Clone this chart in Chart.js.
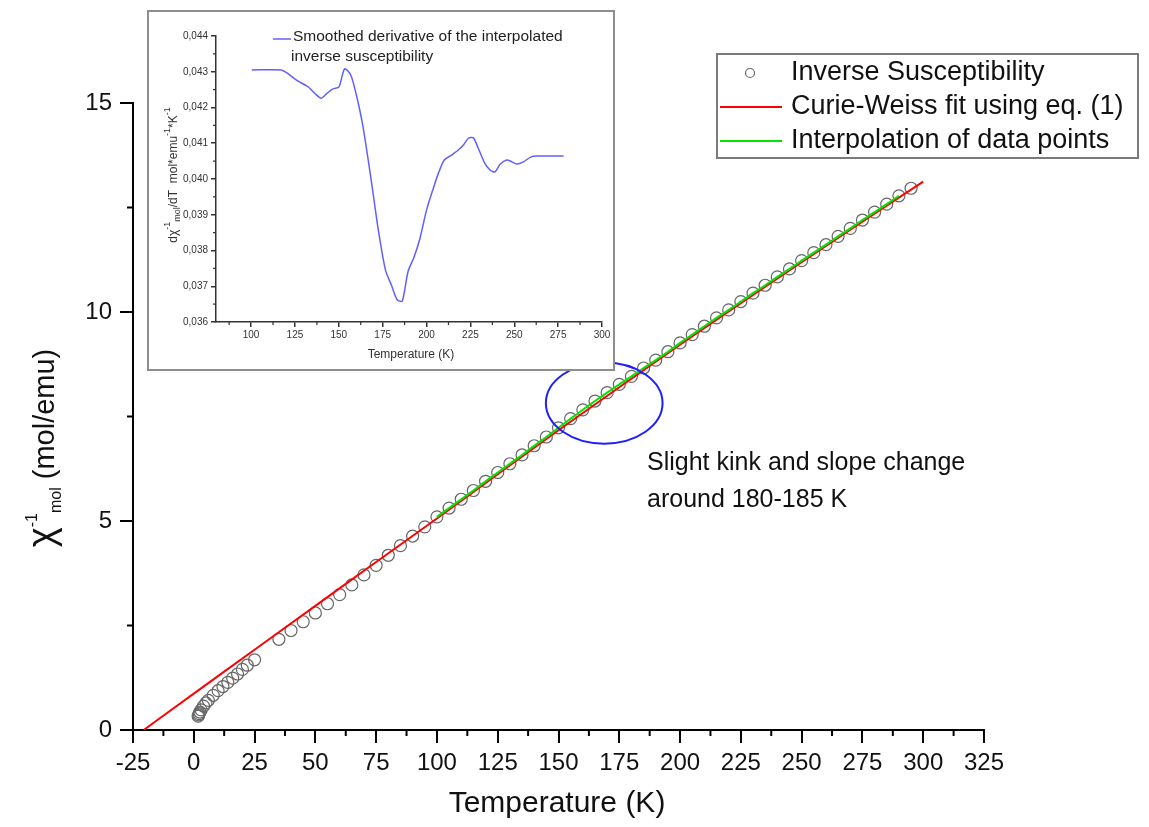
<!DOCTYPE html>
<html>
<head>
<meta charset="utf-8">
<script src="https://cdn.jsdelivr.net/npm/chart.js@4.4.1/dist/chart.umd.min.js"></script>
<style>
  html, body { margin: 0; padding: 0; background: #fff; }
  #wrap { position: relative; width: 1149px; height: 827px; }
  #main { position: absolute; left: 0; top: 0; }
  #insetBox { position: absolute; left: 147px; top: 10px; width: 464px; height: 357px;
              border: 2px solid #8e8e8e; background: #fff; }
</style>
</head>
<body>
<div id="wrap">
  <canvas id="main" width="1149" height="827"></canvas>
  <div id="insetBox"><canvas id="inset" width="464" height="357"></canvas></div>
</div>
<script>
// Inverse susceptibility chi^-1 (mol/emu) vs temperature (K)
const lowT   = [1.8, 2, 2.2, 2.5, 3, 4, 5, 6, 8, 10, 12, 14, 16, 18, 20, 22, 25];
const lowChi = [0.33, 0.36, 0.39, 0.43, 0.48, 0.57, 0.65, 0.71, 0.83, 0.94, 1.04, 1.14, 1.24, 1.34, 1.45, 1.55, 1.68];

const highT = [35, 40, 45, 50, 55, 60, 65, 70, 75, 80, 85, 90, 95,
  100, 105, 110, 115, 120, 125, 130, 135, 140, 145, 150, 155, 160, 165, 170, 175,
  180, 185, 190, 195, 200, 205, 210, 215, 220, 225, 230, 235, 240, 245, 250, 255,
  260, 265, 270, 275, 280, 285, 290, 295];
const highChi = [2.17, 2.38, 2.59, 2.80, 3.02, 3.24, 3.47, 3.71, 3.94, 4.18, 4.41, 4.64, 4.86,
  5.10, 5.31, 5.52, 5.73, 5.95, 6.16, 6.37, 6.58, 6.80, 7.01, 7.23, 7.45, 7.66, 7.87, 8.07, 8.27,
  8.46, 8.66, 8.85, 9.05, 9.26, 9.46, 9.66, 9.86, 10.05, 10.25, 10.45, 10.64, 10.84, 11.03, 11.23, 11.42,
  11.61, 11.81, 12.00, 12.20, 12.39, 12.58, 12.78, 12.96];

// Curie-Weiss fit, eq. (1) (bends a little at high T)
const fitT   = [-20.6, 0, 25, 50, 75, 100, 125, 150, 175, 200, 225, 250, 275, 300];
const fitChi = [0, 0.87, 1.92, 2.97, 4.02, 5.06, 6.12, 7.17, 8.20, 9.22, 10.21, 11.19, 12.16, 13.12];

// green interpolation runs through the data in this range
const interpFrom = 100;
const interpTo = 290;

// axes
const xTicks = [-25, 0, 25, 50, 75, 100, 125, 150, 175, 200, 225, 250, 275, 300, 325];
const xMinor = [-12.5, 12.5, 37.5, 62.5, 87.5, 112.5, 137.5, 162.5, 187.5, 212.5, 237.5, 262.5, 287.5, 312.5];
const yTicks = [0, 5, 10, 15];
const yMinor = [2.5, 7.5, 12.5];

// highlighted region (ellipse), in data units
const kinkCenterT = 168.8;
const kinkCenterChi = 7.82;
const kinkHalfT = 24;
const kinkHalfChi = 0.97;

// Inset: smoothed derivative d(chi^-1)/dT
const insetT = [100.4, 117.1, 120, 125.7, 132.4, 136.2, 140, 143.8, 146.7, 150.1, 153.3, 156.8,
  160, 163.8, 168.6, 172.4, 176.6, 180, 183.2, 186.1, 189.5, 192.9, 196.2, 200, 203.8, 206.7,
  210.1, 214.3, 218.1, 221, 223.8, 226.7, 229.5, 233, 236.2, 239, 241.9, 245.7, 248.6, 251.4,
  255.2, 259.6, 262.9, 278.1];
const insetD = [0.04305, 0.04305, 0.04298, 0.04277, 0.04258, 0.04240, 0.04226, 0.04242, 0.04252,
  0.04258, 0.04308, 0.04291, 0.04235, 0.04146, 0.03992, 0.03861, 0.03745, 0.03703, 0.03663,
  0.03658, 0.03742, 0.03782, 0.03833, 0.03913, 0.03973, 0.04015, 0.04053, 0.04067, 0.04081,
  0.04095, 0.04114, 0.04115, 0.04086, 0.04046, 0.04025, 0.04020, 0.04041, 0.04053, 0.04048,
  0.04042, 0.04048, 0.04062, 0.04064, 0.04064];

const insetXTicks = [100, 125, 150, 175, 200, 225, 250, 275, 300];
const insetXMinor = [87.5, 112.5, 137.5, 162.5, 187.5, 212.5, 237.5, 262.5, 287.5];
const insetYTicks = [0.036, 0.037, 0.038, 0.039, 0.040, 0.041, 0.042, 0.043, 0.044];
const insetYLabels = ["0,036", "0,037", "0,038", "0,039", "0,040", "0,041", "0,042", "0,043", "0,044"];
const insetYMinor = [0.0365, 0.0375, 0.0385, 0.0395, 0.0405, 0.0415, 0.0425, 0.0435];

const FONT = "'Liberation Sans', Arial, sans-serif";

const toXY = (xs, ys) => xs.map((x, i) => ({ x: x, y: ys[i] }));

// draw a row of text pieces (normal / sup / sub) starting at x, baseline 0
function richWidth(ctx, parts) {
  let w = 0;
  for (const p of parts) {
    ctx.font = p.size + "px " + FONT;
    w += ctx.measureText(p.t).width;
  }
  return w;
}
function drawRich(ctx, parts, x0) {
  let x = x0;
  for (const p of parts) {
    ctx.font = p.size + "px " + FONT;
    ctx.fillText(p.t, x, p.dy || 0);
    x += ctx.measureText(p.t).width;
  }
}

// small outward minor ticks on bottom and left axes
const minorTicks = {
  id: "minorTicks",
  afterDraw(chart, args, opts) {
    const { ctx, chartArea } = chart;
    const xs = chart.scales.x, ys = chart.scales.y;
    ctx.save();
    ctx.strokeStyle = opts.color;
    ctx.lineWidth = opts.width;
    ctx.beginPath();
    for (const v of opts.x) {
      const px = xs.getPixelForValue(v);
      ctx.moveTo(px, chartArea.bottom);
      ctx.lineTo(px, chartArea.bottom + opts.length);
    }
    for (const v of opts.y) {
      const py = ys.getPixelForValue(v);
      ctx.moveTo(chartArea.left, py);
      ctx.lineTo(chartArea.left - opts.length, py);
    }
    ctx.stroke();
    ctx.restore();
  }
};

const mainDecor = {
  id: "mainDecor",
  afterDraw(chart) {
    const { ctx } = chart;
    const xs = chart.scales.x, ys = chart.scales.y;
    ctx.save();

    // ellipse around the kink
    const cx = xs.getPixelForValue(kinkCenterT);
    const cy = ys.getPixelForValue(kinkCenterChi);
    const rx = xs.getPixelForValue(kinkCenterT + kinkHalfT) - cx;
    const ry = cy - ys.getPixelForValue(kinkCenterChi + kinkHalfChi);
    ctx.strokeStyle = "#1e1eff";
    ctx.lineWidth = 2;
    ctx.beginPath();
    ctx.ellipse(cx, cy, rx, ry, 0, 0, Math.PI * 2);
    ctx.stroke();

    // annotation text
    ctx.fillStyle = "#111";
    ctx.textBaseline = "alphabetic";
    ctx.textAlign = "left";
    ctx.font = "25px " + FONT;
    ctx.fillText("Slight kink and slope change", 647, 470);
    ctx.fillText("around 180-185 K", 647, 507);

    // legend box
    ctx.strokeStyle = "#7a7a7a";
    ctx.lineWidth = 2;
    ctx.strokeRect(717, 54, 421, 104);
    const ds = chart.data.datasets;
    ctx.strokeStyle = "#666";
    ctx.lineWidth = 1.2;
    ctx.beginPath();
    ctx.arc(750, 73, 4.5, 0, Math.PI * 2);
    ctx.stroke();
    ctx.lineWidth = 2;
    ctx.strokeStyle = ds[1].borderColor;
    ctx.beginPath(); ctx.moveTo(720, 107); ctx.lineTo(782, 107); ctx.stroke();
    ctx.strokeStyle = ds[2].borderColor;
    ctx.beginPath(); ctx.moveTo(720, 141); ctx.lineTo(782, 141); ctx.stroke();
    ctx.fillStyle = "#111";
    ctx.font = "27px " + FONT;
    ctx.textBaseline = "middle";
    ctx.fillText(ds[0].label, 791, 73);
    ctx.fillText(ds[1].label, 791, 107);
    ctx.fillText(ds[2].label, 791, 141);

    // x title
    ctx.textAlign = "center";
    ctx.textBaseline = "alphabetic";
    ctx.font = "30px " + FONT;
    ctx.fillText("Temperature (K)", 557, 812);

    // y title, rotated
    const parts = [
      { t: "\u03C7", size: 38 },
      { t: "-1", size: 16, dy: -17 },
      { t: "mol", size: 16, dy: 7 },
      { t: " (mol/emu)", size: 29 }
    ];
    ctx.textAlign = "left";
    ctx.translate(54, 448);
    ctx.rotate(-Math.PI / 2);
    const w = richWidth(ctx, parts);
    drawRich(ctx, parts, -w / 2);
    ctx.restore();
  }
};

const allPoints = toXY(lowT.concat(highT), lowChi.concat(highChi));
const interpPoints = toXY(highT, highChi).filter(p => p.x >= interpFrom && p.x <= interpTo);

const axisGrid = { display: true, drawOnChartArea: false, drawTicks: true, tickLength: 13,
                   tickWidth: 2, tickColor: "#000", color: "#000", lineWidth: 2 };

new Chart(document.getElementById("main"), {
  type: "scatter",
  data: {
    datasets: [
      { label: "Inverse Susceptibility", data: allPoints, showLine: false,
        pointRadius: 6, pointBorderWidth: 1.2, pointBorderColor: "#666",
        pointBackgroundColor: "rgba(0,0,0,0)", order: 3 },
      { label: "Curie-Weiss fit using eq. (1)", data: toXY(fitT, fitChi), showLine: true,
        borderColor: "#ff0000", borderWidth: 2, pointRadius: 0, tension: 0.2, order: 2 },
      { label: "Interpolation of data points", data: interpPoints, showLine: true,
        borderColor: "#00e600", borderWidth: 2, pointRadius: 0, tension: 0.2, order: 1 }
    ]
  },
  options: {
    responsive: false,
    animation: false,
    layout: { padding: { left: 0, top: 103, right: 165, bottom: 0 } },
    plugins: {
      legend: { display: false },
      tooltip: { enabled: false },
      minorTicks: { x: xMinor, y: yMinor, length: 6, color: "#000", width: 2 }
    },
    scales: {
      x: {
        type: "linear", min: -25, max: 325,
        afterBuildTicks: s => { s.ticks = xTicks.map(v => ({ value: v })); },
        afterFit: s => { s.height = 97; },
        ticks: { color: "#111", font: { family: FONT, size: 24 }, padding: 6, maxRotation: 0,
                 callback: v => String(v) },
        grid: axisGrid,
        border: { display: true, color: "#000", width: 2 }
      },
      y: {
        type: "linear", min: 0, max: 15,
        afterBuildTicks: s => { s.ticks = yTicks.map(v => ({ value: v })); },
        afterFit: s => { s.width = 133; },
        ticks: { color: "#111", font: { family: FONT, size: 24 }, padding: 8,
                 callback: v => String(v) },
        grid: axisGrid,
        border: { display: true, color: "#000", width: 2 }
      }
    }
  },
  plugins: [minorTicks, mainDecor]
});

const insetDecor = {
  id: "insetDecor",
  afterDraw(chart) {
    const { ctx } = chart;
    ctx.save();
    // legend
    ctx.strokeStyle = chart.data.datasets[0].borderColor;
    ctx.lineWidth = 1.5;
    ctx.beginPath(); ctx.moveTo(124, 27); ctx.lineTo(142, 27); ctx.stroke();
    ctx.fillStyle = "#222";
    ctx.font = "15.5px " + FONT;
    ctx.textBaseline = "middle";
    ctx.textAlign = "left";
    ctx.fillText("Smoothed derivative of the interpolated", 144, 25);
    ctx.fillText("inverse susceptibility", 142, 45);

    // x title
    ctx.fillStyle = "#333";
    ctx.textAlign = "center";
    ctx.font = "12px " + FONT;
    ctx.fillText("Temperature (K)", 262, 343);

    // y title, rotated
    const parts = [
      { t: "d\u03C7", size: 12 },
      { t: "-1", size: 9, dy: -7 },
      { t: "mol", size: 9, dy: 3 },
      { t: "/dT  mol*emu", size: 12 },
      { t: "-1", size: 9, dy: -7 },
      { t: "*K", size: 12 },
      { t: "-1", size: 9, dy: -7 }
    ];
    ctx.textAlign = "left";
    ctx.textBaseline = "alphabetic";
    ctx.translate(28, 163);
    ctx.rotate(-Math.PI / 2);
    const w = richWidth(ctx, parts);
    drawRich(ctx, parts, -w / 2);
    ctx.restore();
  }
};

const insetGrid = { display: true, drawOnChartArea: false, drawTicks: true, tickLength: 5,
                    tickWidth: 1.5, tickColor: "#333", color: "#333", lineWidth: 1.5 };

new Chart(document.getElementById("inset"), {
  type: "scatter",
  data: {
    datasets: [
      { label: "Smoothed derivative of the interpolated inverse susceptibility",
        data: toXY(insetT, insetD), showLine: true, borderColor: "#6060ff",
        borderWidth: 1.5, pointRadius: 0, tension: 0.25 }
    ]
  },
  options: {
    responsive: false,
    animation: false,
    layout: { padding: { left: 0, top: 24, right: 11, bottom: 0 } },
    plugins: {
      legend: { display: false },
      tooltip: { enabled: false },
      minorTicks: { x: insetXMinor, y: insetYMinor, length: 3, color: "#333", width: 1.2 }
    },
    scales: {
      x: {
        type: "linear", min: 80, max: 300,
        afterBuildTicks: s => { s.ticks = insetXTicks.map(v => ({ value: v })); },
        afterFit: s => { s.height = 47; },
        ticks: { color: "#333", font: { family: FONT, size: 10 }, padding: 2, maxRotation: 0,
                 callback: v => String(v) },
        grid: insetGrid,
        border: { display: true, color: "#333", width: 1.5 }
      },
      y: {
        type: "linear", min: 0.036, max: 0.044,
        afterBuildTicks: s => { s.ticks = insetYTicks.map(v => ({ value: v })); },
        afterFit: s => { s.width = 67; },
        ticks: { color: "#333", font: { family: FONT, size: 10 }, padding: 3,
                 callback: (v, i) => insetYLabels[i] },
        grid: insetGrid,
        border: { display: true, color: "#333", width: 1.5 }
      }
    }
  },
  plugins: [minorTicks, insetDecor]
});
</script>
</body>
</html>
